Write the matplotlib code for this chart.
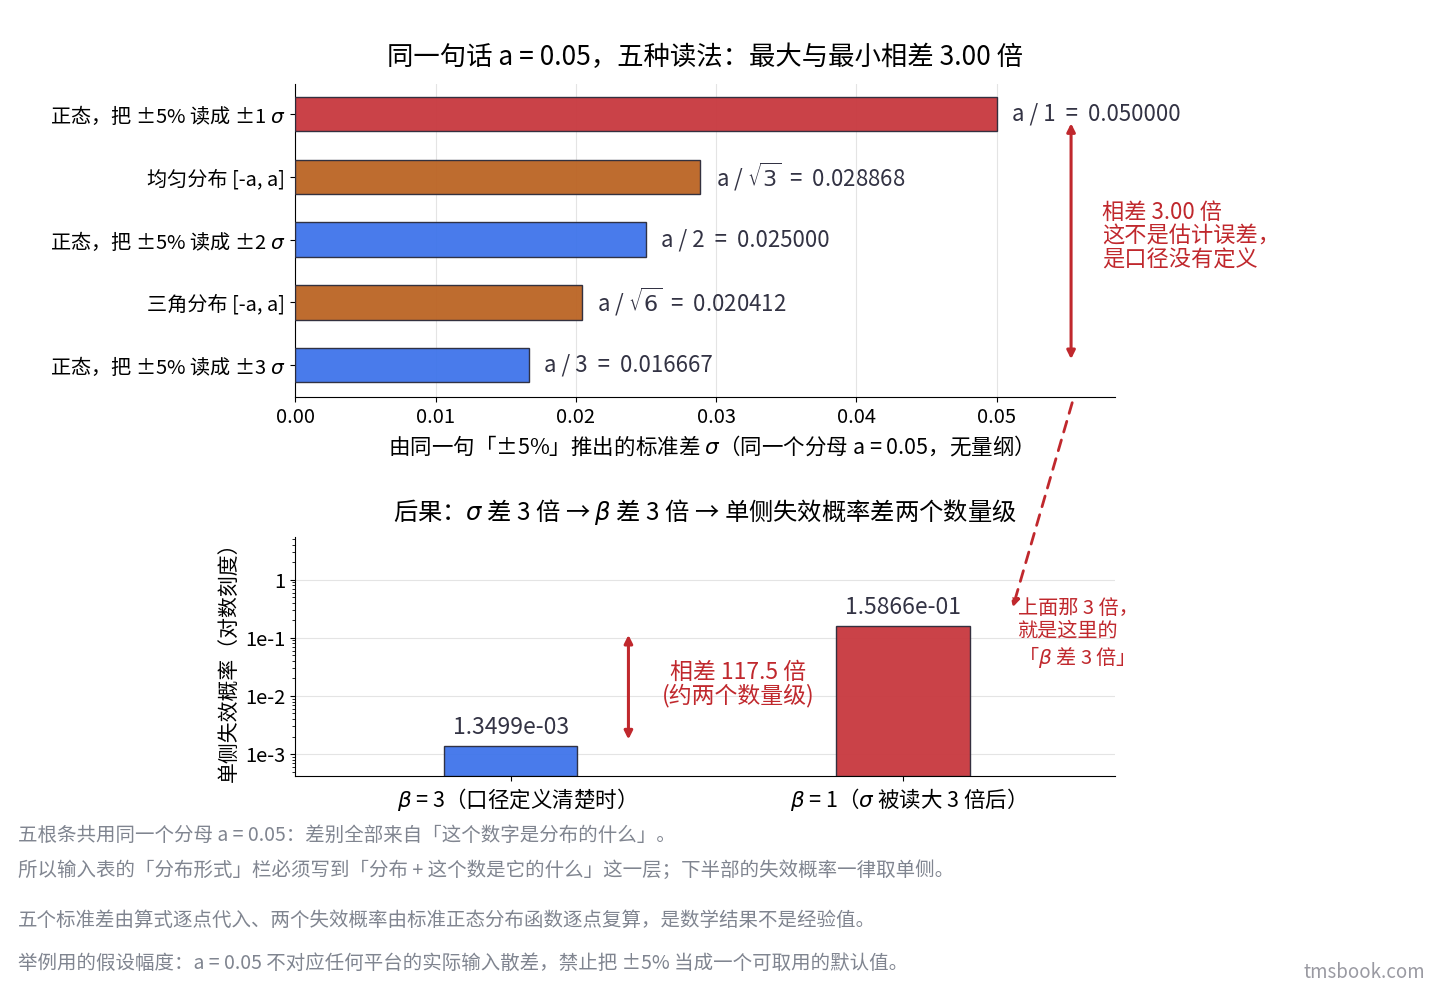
import matplotlib.pyplot as plt

plt.rcParams['font.family'] = ['Noto Sans CJK SC', 'DejaVu Sans']
plt.rcParams['mathtext.fontset'] = 'dejavusans'
plt.rcParams['axes.unicode_minus'] = False

# top panel data
labels = ["正态，把 ±5% 读成 ±1 $\\sigma$", "均匀分布 [-a, a]", "正态，把 ±5% 读成 ±2 $\\sigma$",
          "三角分布 [-a, a]", "正态，把 ±5% 读成 ±3 $\\sigma$"]
sigmas = [0.050000, 0.028868, 0.025000, 0.020412, 0.016667]
formulas = ["a / 1", "a / $\\sqrt{3}$", "a / 2", "a / $\\sqrt{6}$", "a / 3"]
colors = ["#c8383e", "#bb6424", "#3f74ea", "#bb6424", "#3f74ea"]

# bottom panel data
cases = ["$\\beta$ = 3（口径定义清楚时）", "$\\beta$ = 1（$\\sigma$ 被读大 3 倍后）"]
probs = [1.3499e-03, 1.5866e-01]
case_colors = ["#3f74ea", "#c8383e"]

red = "#c0282d"
fig = plt.figure(figsize=(14.4, 9.9), dpi=100)

ax = fig.add_axes([0.205, 0.599, 0.569, 0.316])
ypos = list(range(len(sigmas)))
ax.barh(ypos, sigmas, height=0.55, color=colors, edgecolor="#2a2a3a", linewidth=1, alpha=0.95, zorder=3)
for y, v, f in zip(ypos, sigmas, formulas):
    ax.text(v + 0.0011, y, f"{f}  =  {v:.6f}", va="center", fontsize=16, color="#333344")
ax.set_yticks(ypos)
ax.set_yticklabels(labels, fontsize=14.5)
ax.set_ylim(4.51, -0.48)
ax.set_xlim(0, 0.0584)
ax.set_xticks([0, 0.01, 0.02, 0.03, 0.04, 0.05])
ax.set_xticklabels([f"{t:.2f}" for t in [0, 0.01, 0.02, 0.03, 0.04, 0.05]], fontsize=14.5)
ax.grid(axis="x", color="#e4e4e4", zorder=0)
for s in ["top", "right"]:
    ax.spines[s].set_visible(False)
ax.set_xlabel("由同一句「±5%」推出的标准差 $\\sigma$（同一个分母 a = 0.05，无量纲）", fontsize=15.5)
ax.set_title("同一句话 a = 0.05，五种读法：最大与最小相差 3.00 倍", fontsize=19, pad=14)
ax.annotate("", xy=(0.0553, 0.1), xytext=(0.0553, 3.95),
            arrowprops=dict(arrowstyle="<|-|>", color=red, lw=2.2, mutation_scale=12))
ax.text(0.0575, 1.95, "相差 3.00 倍\n这不是估计误差，\n是口径没有定义", color=red, fontsize=16,
        va="center", ha="left", linespacing=1.05)

bx = fig.add_axes([0.205, 0.216, 0.569, 0.242])
bx.set_yscale("log")
bottom = 10 ** -3.38
bx.bar([0, 1], [p - bottom for p in probs], bottom=bottom, width=0.34, color=case_colors,
       edgecolor="#2a2a3a", linewidth=1, alpha=0.95, zorder=3)
for x, p in zip([0, 1], probs):
    bx.text(x, p * 1.35, f"{p:.4e}", ha="center", va="bottom", fontsize=16.5, color="#333344")
bx.set_ylim(bottom, 10 ** 0.74)
bx.set_xlim(-0.55, 1.54)
bx.set_yticks([1, 1e-1, 1e-2, 1e-3])
bx.set_yticklabels(["1", "1e-1", "1e-2", "1e-3"], fontsize=14.5)
bx.set_xticks([0, 1])
bx.set_xticklabels(cases, fontsize=15.5)
bx.grid(axis="y", which="major", color="#e4e4e4", zorder=0)
for s in ["top", "right"]:
    bx.spines[s].set_visible(False)
bx.set_ylabel("单侧失效概率（对数刻度）", fontsize=15)
bx.set_title("后果：$\\sigma$ 差 3 倍 → $\\beta$ 差 3 倍 → 单侧失效概率差两个数量级", fontsize=17.5, pad=12)
bx.annotate("", xy=(0.3, 0.125), xytext=(0.3, 1.6e-3),
            arrowprops=dict(arrowstyle="<|-|>", color=red, lw=2.2, mutation_scale=12))
bx.text(0.58, 0.016, "相差 117.5 倍\n(约两个数量级)", color=red, fontsize=16.5,
        ha="center", va="center", linespacing=1.0)

fig.add_artist(plt.matplotlib.patches.FancyArrowPatch(
    (1073 / 1440, 1 - 400 / 990), (1012 / 1440, 1 - 610 / 990), transform=fig.transFigure,
    arrowstyle="-|>", linestyle=(0, (4, 3)), color=red, lw=2, mutation_scale=12))
fig.text(1018 / 1440, 1 - 598 / 990, "上面那 3 倍，\n就是这里的\n「$\\beta$ 差 3 倍」", color=red,
         fontsize=14.5, va="top", ha="left", linespacing=1.1)

gray = "#808590"
fs = 14
fig.text(18 / 1440, 1 - 835 / 990, "五根条共用同一个分母 a = 0.05：差别全部来自「这个数字是分布的什么」。",
         fontsize=fs, color=gray, va="center")
fig.text(18 / 1440, 1 - 870 / 990, "所以输入表的「分布形式」栏必须写到「分布 + 这个数是它的什么」这一层；下半部的失效概率一律取单侧。",
         fontsize=fs, color=gray, va="center")
fig.text(18 / 1440, 1 - 920 / 990, "五个标准差由算式逐点代入、两个失效概率由标准正态分布函数逐点复算，是数学结果不是经验值。",
         fontsize=fs, color=gray, va="center")
fig.text(18 / 1440, 1 - 963 / 990, "举例用的假设幅度：a = 0.05 不对应任何平台的实际输入散差，禁止把 ±5% 当成一个可取用的默认值。",
         fontsize=fs, color=gray, va="center")
fig.text(1425 / 1440, 1 - 973 / 990, "tmsbook.com", fontsize=13.5, color="#9a9aa2", ha="right", va="center")

fig.savefig("out.png", dpi=100)
